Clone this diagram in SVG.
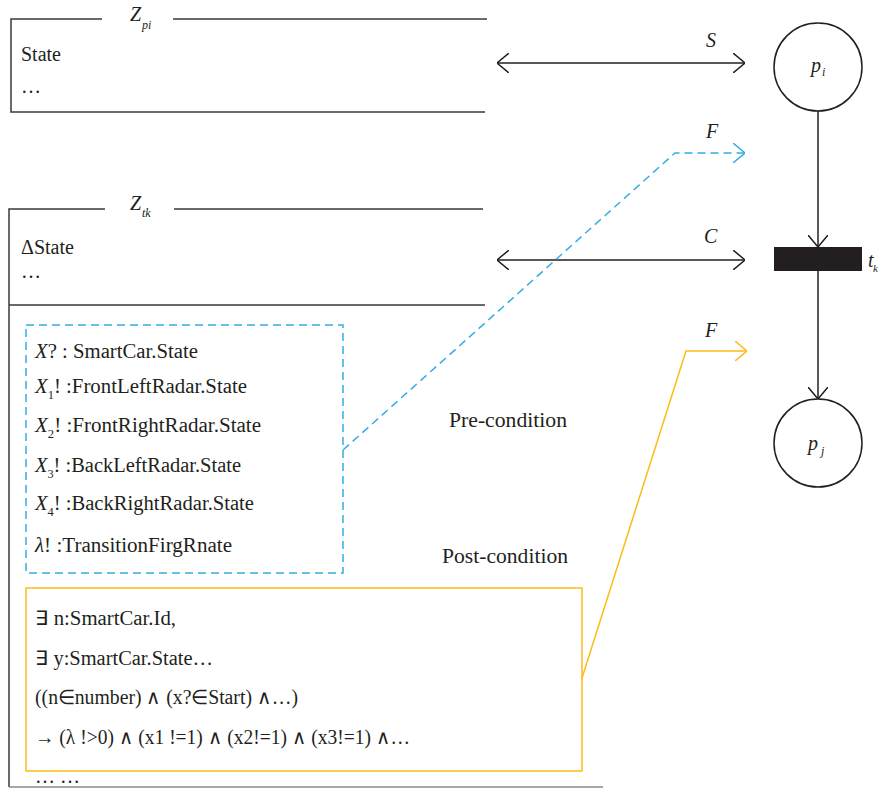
<svg xmlns="http://www.w3.org/2000/svg" width="879" height="788" viewBox="0 0 879 788">
<style>
text{font-family:"Liberation Serif","Times New Roman",serif;fill:#231f20}
.t{font-size:20px}
.it{font-style:italic}
.sub{font-size:12px;font-style:italic}
.box{stroke:#3a3a3a;stroke-width:1.5;fill:none}
.blk{stroke:#231f20;stroke-width:1.5;fill:none}
.blue{stroke:#35ade2;stroke-width:1.5;fill:none;stroke-dasharray:8 5}
.yel{stroke:#fdbb14;stroke-width:1.5;fill:none}
</style>
<defs>
<marker id="ab" viewBox="0 0 12 20" refX="12" refY="10" markerWidth="12" markerHeight="20" markerUnits="userSpaceOnUse" orient="auto-start-reverse"><path d="M0,0 L12,10 L0,20" fill="none" stroke="#231f20" stroke-width="1.5"/></marker>
<marker id="au" viewBox="0 0 12 20" refX="12" refY="10" markerWidth="12" markerHeight="20" markerUnits="userSpaceOnUse" orient="auto-start-reverse"><path d="M0,0 L12,10 L0,20" fill="none" stroke="#35ade2" stroke-width="1.5"/></marker>
<marker id="ay" viewBox="0 0 12 20" refX="12" refY="10" markerWidth="12" markerHeight="20" markerUnits="userSpaceOnUse" orient="auto-start-reverse"><path d="M0,0 L12,10 L0,20" fill="none" stroke="#fdbb14" stroke-width="1.5"/></marker>
</defs>

<g id="Zpi">
<path class="box" d="M102,19 H11 V112 H485 M173,19 H487"/>
<text x="130" y="21" class="t it">Z</text><text x="142" y="29" class="sub">pi</text>
<text x="21" y="61" class="t" textLength="40" lengthAdjust="spacingAndGlyphs">State</text>
<text x="21" y="93" class="t">…</text>
</g>

<g id="Ztk">
<path class="box" d="M105,209 H9 V787 M174,209 H483 M9,305 H485"/>
<path d="M9,787 H603" stroke="#8a8a8a" stroke-width="1.5" fill="none"/>
<text x="130" y="210" class="t it">Z</text><text x="142" y="217" class="sub">tk</text>
<text x="21" y="254" class="t" textLength="53" lengthAdjust="spacingAndGlyphs">ΔState</text>
<text x="21" y="278" class="t">…</text>
<text x="449" y="427" font-size="21" textLength="118" lengthAdjust="spacingAndGlyphs">Pre-condition</text>
<text x="442" y="563" font-size="21" textLength="126" lengthAdjust="spacingAndGlyphs">Post-condition</text>
<text x="35" y="783" class="t">… …</text>
</g>

<g id="precondition">
<rect x="26" y="325" width="317" height="248" class="blue"/>
<text x="35" y="358" class="t" textLength="163" lengthAdjust="spacingAndGlyphs"><tspan class="it">X</tspan>? : SmartCar.State</text>
<text x="35" y="393" class="t" textLength="212" lengthAdjust="spacingAndGlyphs"><tspan class="it">X</tspan><tspan font-size="12" dy="6">1</tspan><tspan dy="-6">! :FrontLeftRadar.State</tspan></text>
<text x="35" y="432" class="t" textLength="226" lengthAdjust="spacingAndGlyphs"><tspan class="it">X</tspan><tspan font-size="12" dy="6">2</tspan><tspan dy="-6">! :FrontRightRadar.State</tspan></text>
<text x="35" y="472" class="t" textLength="206" lengthAdjust="spacingAndGlyphs"><tspan class="it">X</tspan><tspan font-size="12" dy="6">3</tspan><tspan dy="-6">! :BackLeftRadar.State</tspan></text>
<text x="35" y="510" class="t" textLength="219" lengthAdjust="spacingAndGlyphs"><tspan class="it">X</tspan><tspan font-size="12" dy="6">4</tspan><tspan dy="-6">! :BackRightRadar.State</tspan></text>
<text x="35" y="552" class="t" textLength="197" lengthAdjust="spacingAndGlyphs"><tspan class="it">λ</tspan>! :TransitionFirgRnate</text>
</g>

<g id="postcondition">
<rect x="26" y="588" width="556" height="183" class="yel"/>
<text x="35" y="625" class="t" textLength="141" lengthAdjust="spacingAndGlyphs">∃ n:SmartCar.Id,</text>
<text x="35" y="665" class="t" textLength="178" lengthAdjust="spacingAndGlyphs">∃ y:SmartCar.State…</text>
<text x="35" y="704" class="t" textLength="263" lengthAdjust="spacingAndGlyphs">((n∈number) ∧ (x?∈Start) ∧…)</text>
<text x="35" y="744" class="t" textLength="375" lengthAdjust="spacingAndGlyphs">→ (λ !&gt;0) ∧ (x1 !=1) ∧ (x2!=1) ∧ (x3!=1) ∧…</text>
</g>

<g id="pi">
<circle cx="818" cy="67" r="44" class="blk"/>
<text x="811" y="72" class="t it">p</text><text x="822" y="76" class="sub">i</text>
</g>

<g id="tk">
<rect x="774" y="247" width="88" height="24" fill="#231f20"/>
<text x="868" y="267" class="t it">t</text><text x="873" y="272" font-size="11" font-style="italic">k</text>
</g>

<g id="pj">
<circle cx="818" cy="443" r="44" class="blk"/>
<text x="808" y="450" class="t it">p</text><text x="821" y="455" class="sub">j</text>
</g>

<g id="connectors">
<line x1="497" y1="63" x2="745" y2="63" class="blk" marker-start="url(#ab)" marker-end="url(#ab)"/>
<text x="706" y="47" class="t it">S</text>
<line x1="497" y1="260" x2="745" y2="260" class="blk" marker-start="url(#ab)" marker-end="url(#ab)"/>
<text x="704" y="243" class="t it">C</text>
<polyline points="343,450 675,153 745,153" class="blue" marker-end="url(#au)"/>
<text x="706" y="138" class="t it">F</text>
<polyline points="582,678 686,351 747,351" class="yel" marker-end="url(#ay)"/>
<text x="705" y="337" class="t it">F</text>
<line x1="818" y1="111" x2="818" y2="247" class="blk" marker-end="url(#ab)"/>
<line x1="818" y1="271" x2="818" y2="399" class="blk" marker-end="url(#ab)"/>
</g>
</svg>
